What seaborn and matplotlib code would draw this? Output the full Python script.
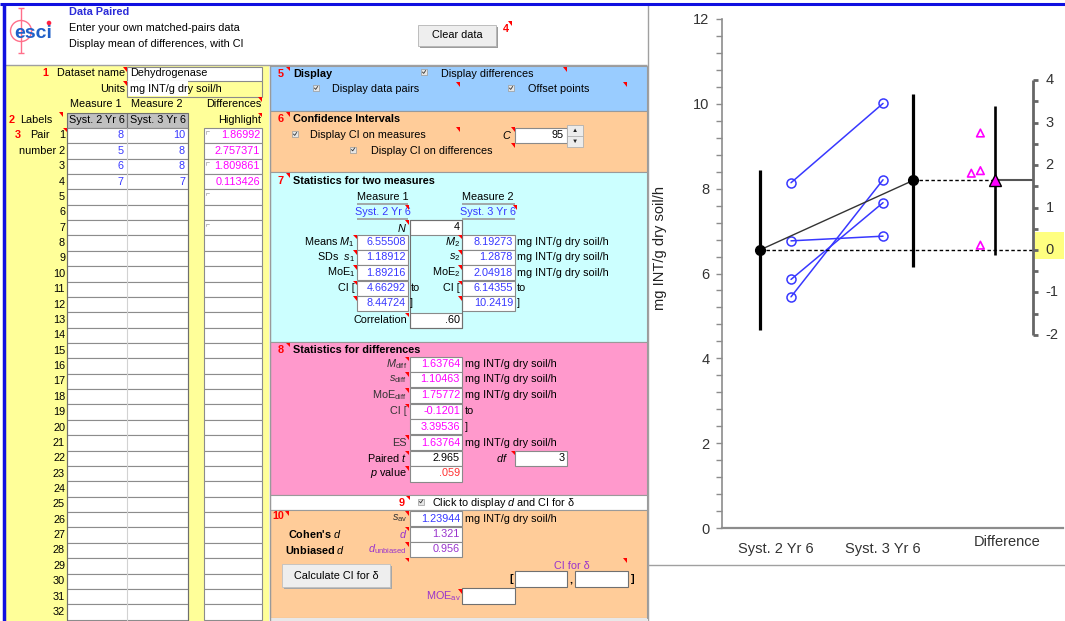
import numpy as np
import pandas as pd
import matplotlib
matplotlib.use("Agg")
import matplotlib.pyplot as plt
import seaborn as sns
from matplotlib.patches import Rectangle, Polygon, Circle

dataset_name = "Dehydrogenase"
units = "mg INT/g dry soil/h"
labels = ["Syst. 2 Yr 6", "Syst. 3 Yr 6"]
measure1 = [8.14, 5.45, 5.86, 6.77]
measure2 = [10.01, 8.21, 7.67, 6.88]
differences = [1.86992, 2.757371, 1.809861, 0.113426]
means = [6.55508, 8.19273]
sds = [1.18912, 1.2878]
moes = [1.89216, 2.04918]
ci_lower = [4.66292, 6.14355]
ci_upper = [8.44724, 10.2419]
n_pairs = 4
correlation = ".60"
m_diff = 1.63764
s_diff = 1.10463
moe_diff = 1.75772
ci_diff = [-0.1201, 3.39536]
paired_t = "2.965"
df_t = 3
p_value = ".059"
s_av = 1.23944
cohens_d = "1.321"
unbiased_d = "0.956"
conf_level = 95

sns.set_theme(style="white")
plt.rcParams["font.family"] = ["Liberation Sans", "DejaVu Sans"]
plt.rcParams["mathtext.fontset"] = "custom"
plt.rcParams["mathtext.rm"] = "Liberation Sans"
plt.rcParams["mathtext.it"] = "Liberation Sans:italic"
plt.rcParams["mathtext.bf"] = "Liberation Sans:bold"

BLUE = "#3838ff"
MAG = "#ff00ff"
PURPLE = "#9933cc"
RED = "#ff0000"
GRID = "#8a8a8a"

fig = plt.figure(figsize=(10.65, 6.21), dpi=100)
fig.patch.set_facecolor("white")

# ---- spreadsheet part, drawn in pixel coordinates ----
sheet = fig.add_axes([0, 0, 1, 1], zorder=0)
sheet.set_xlim(0, 1065)
sheet.set_ylim(621, 0)
sheet.axis("off")


def box(x0, y0, x1, y1, fc="white", ec=GRID, lw=0.8, z=1):
    sheet.add_patch(Rectangle((x0, y0), x1 - x0, y1 - y0, facecolor=fc,
                              edgecolor=ec, linewidth=lw, zorder=z))


def say(x, y, s, ha="left", color="black", size=7.8, **kw):
    sheet.text(x, y, s, ha=ha, va="center", color=color, fontsize=size, zorder=6, **kw)


def flag(x, y):
    sheet.add_patch(Polygon([(x - 4.5, y), (x, y), (x, y + 4.5)], closed=True,
                            facecolor="red", edgecolor="none", zorder=7))


def tick_box(x, y):
    box(x - 3, y - 3, x + 3, y + 3, fc="#e6e6e6", ec="#9a9a9a", lw=0.5, z=3)
    sheet.plot([x - 1.6, x - 0.3, x + 1.7], [y, y + 1.4, y - 1.6], color="#333333", lw=0.6, zorder=4)


def hline(x0, x1, y, color=GRID, lw=0.8, z=2):
    sheet.plot([x0, x1], [y, y], color=color, lw=lw, zorder=z, solid_capstyle="butt")


def vline(x, y0, y1, color=GRID, lw=0.8, z=2):
    sheet.plot([x, x], [y0, y1], color=color, lw=lw, zorder=z, solid_capstyle="butt")


# frame and header
box(0, 0, 1065, 621, fc="white", ec="none", z=0)
hline(0, 1065, 4, color="#1010e0", lw=2.2, z=3)
vline(4, 4, 621, color="#1010e0", lw=2.5, z=3)
hline(5, 647, 65, color="#a0a0a0", lw=1)
vline(647.5, 5, 621, color="#a0a0a0", lw=1)
hline(648, 1065, 565, color="#a0a0a0", lw=1)

# esci logo
sheet.add_patch(Circle((21, 31), 10.5, facecolor="none", edgecolor="#ff6f8a", lw=1, zorder=3))
vline(21, 8, 53, color="#ff6f8a", lw=1, z=3)
hline(18, 24, 8, color="#ff6f8a", lw=1, z=3)
hline(18, 24, 53, color="#ff6f8a", lw=1, z=3)
say(33, 33, "esci", ha="center", color="#2060c8", size=14, weight="bold")
sheet.add_patch(Circle((49, 23), 2.3, facecolor="#ff2040", edgecolor="none", zorder=8))

say(69, 12, "Data Paired", color="#2c2cd8", weight="bold")
say(69, 28, "Enter your own matched-pairs data")
say(69, 44, "Display mean of differences, with CI")

# clear data button
box(420, 27, 498, 48, fc="#9c9c9c", ec="none", z=2)
box(418, 25, 496, 46, fc="#eeeeee", ec="#b4b4b4", lw=0.6, z=3)
say(457, 35.5, "Clear data", ha="center")
say(503, 29, "4", color=RED, weight="bold")
flag(512, 21)

# ---- left yellow data panel ----
box(5, 65, 269, 621, fc="#ffff99", ec="none", z=1)
vline(269.5, 65, 621, color="#9a9a9a", lw=1)

say(45, 73.5, "1", ha="center", color=RED, weight="bold")
say(125, 73.5, "Dataset name", ha="right")
box(127, 67, 262, 80.5)
say(130, 73.5, dataset_name)
flag(127, 67)
say(125, 88.5, "Units", ha="right")
box(127, 81, 188, 96, ec="none")
hline(127, 262, 96.5)
vline(262, 81, 96.5)
vline(127, 81, 96.5)
say(130, 88.5, units)
flag(127, 81)

say(96, 104, "Measure 1", ha="center")
say(157, 104, "Measure 2", ha="center")
say(261, 104, "Differences", ha="right")
flag(262, 97)

say(12, 120, "2", ha="center", color=RED, weight="bold")
say(20, 120, "Labels")
flag(63, 112)
box(67, 112.5, 127, 127.5, fc="#c0c0c0", ec="#707070")
box(127, 112.5, 188, 127.5, fc="#c0c0c0", ec="#707070")
say(97, 120, labels[0], ha="center")
say(157.5, 120, labels[1], ha="center")
say(261, 120, "Highlight", ha="right")
flag(262, 112.5)

row_h = 15.37
row0 = 127.8
for k in range(32):
    top = row0 + k * row_h
    mid = top + row_h / 2
    box(67, top, 188, top + row_h, ec="#8c8c8c", lw=0.8)
    box(204, top, 262, top + row_h, ec="#8c8c8c", lw=0.8)
    if k == 0:
        say(65, mid, "1", ha="right")
        say(18, mid, "3", ha="center", color=RED, weight="bold")
        say(30, mid, "Pair")
    elif k == 1:
        say(65, mid, "number 2", ha="right")
    else:
        say(65, mid, str(k + 1), ha="right")
    if k in (0, 2, 4, 6):
        sheet.plot([206, 206, 209], [top + 6, top + 3.5, top + 3.5], color="#b0b0b0", lw=0.6, zorder=4)
vline(127, row0, 621, color="#d2d2d2", lw=0.8, z=3)
vline(67, row0, 621, color="#6e6e6e", lw=0.8, z=3)
vline(188, row0, 621, color="#6e6e6e", lw=0.8, z=3)
flag(67, row0)

for k in range(n_pairs):
    mid = row0 + k * row_h + row_h / 2
    say(124, mid, f"{measure1[k]:.0f}", ha="right", color=BLUE)
    say(185, mid, f"{measure2[k]:.0f}", ha="right", color=BLUE)
    say(260, mid, f"{differences[k]:.7g}", ha="right", color=MAG)

# ---- middle coloured panels ----
panels = [(66, 111, "#99ccff"), (111, 172, "#ffcc99"), (172, 342, "#ccffff"),
          (342, 495, "#ff99cc"), (495, 510, "white"), (510, 618, "#ffcc99")]
for y0, y1, colour in panels:
    box(270, y0, 647, y1, fc=colour, ec="#9a9a9a", lw=0.8, z=1)
box(270, 618, 647, 621, fc="#e8e8e8", ec="none", z=1)

# 5 display
say(281, 74, "5", ha="center", color=RED, weight="bold")
flag(290, 66.5)
say(293, 74, "Display", weight="bold")
tick_box(424, 72)
say(441, 74, "Display differences")
tick_box(316, 88)
say(332, 89, "Display data pairs")
tick_box(511, 88)
say(528, 89, "Offset points")
for fx, fy in [(567, 67), (460, 82), (627, 82)]:
    flag(fx, fy)

# 6 confidence intervals
say(281, 119.5, "6", ha="center", color=RED, weight="bold")
flag(290, 112)
say(293, 119.5, "Confidence Intervals", weight="bold")
tick_box(295, 134)
say(310, 135, "Display CI on measures")
flag(460, 127)
say(512, 135, "$C$", ha="right")
box(515, 128, 567, 142.5)
say(564, 135, str(conf_level), ha="right")
box(567, 124.5, 583, 146.5, fc="#ececec", ec="#b0b0b0", lw=0.6)
hline(567, 583, 135.5, color="#b0b0b0", lw=0.6)
say(575, 130, "\u25b2", ha="center", size=4.5, color="#222222")
say(575, 141, "\u25bc", ha="center", size=4.5, color="#222222")
flag(515, 127)
flag(515, 143)
tick_box(353, 149.5)
say(371, 151, "Display CI on differences")

# 7 statistics for two measures
say(281, 181, "7", ha="center", color=RED, weight="bold")
flag(290, 173)
say(293, 181, "Statistics for two measures", weight="bold")
for cx, (x0, x1) in zip([383, 488], [(357, 408), (462, 515)]):
    hline(x0, x1, 203.5, color="#9a9a9a", lw=1.2)
    hline(x0, x1, 218.5, color="#9a9a9a", lw=1.2)
say(383, 197, "Measure 1", ha="center")
say(488, 197, "Measure 2", ha="center")
say(383, 212, labels[0], ha="center", color=BLUE)
say(488, 212, labels[1], ha="center", color=BLUE)
flag(409, 205)
flag(517, 205)

rows7 = [242, 257.5, 272.5, 288, 303.5]
box(410, 220, 462, 328, fc="none", ec="#707070", lw=0.8, z=3)
box(410, 220, 462, 235)
say(407, 227.5, "$N$", ha="right")
say(460, 227.5, str(n_pairs), ha="right")
flag(409, 220)
left_lab = ["Means $M_1$", "SDs  $s_1$", "MoE$_1$", "CI [", ""]
right_lab = ["$M_2$", "$s_2$", "MoE$_2$", "CI [", ""]
col_vals = [[means[j], sds[j], moes[j], ci_lower[j], ci_upper[j]] for j in range(2)]
for i, y in enumerate(rows7):
    box(357, y - 7.5, 408, y + 7.5)
    box(462, y - 7.5, 515, y + 7.5)
    say(355, y, left_lab[i], ha="right")
    say(460, y, right_lab[i], ha="right")
    say(406, y, f"{col_vals[0][i]:.6g}", ha="right", color=BLUE)
    say(513, y, f"{col_vals[1][i]:.6g}", ha="right", color=BLUE)
    flag(357, y - 7.5)
    flag(462, y - 7.5)
    if i < 3:
        say(517, y, units)
say(411, rows7[3], "to")
say(517, rows7[3], "to")
say(410, rows7[4], "]")
say(517, rows7[4], "]")
box(410, 312.5, 462, 328)
say(407, 320, "Correlation", ha="right")
say(460, 320, correlation, ha="right")
flag(409, 312.5)

# 8 statistics for differences
say(281, 350, "8", ha="center", color=RED, weight="bold")
flag(290, 342.5)
say(293, 350, "Statistics for differences", weight="bold")
rows8 = [364, 379.5, 395.5, 411, 426.5, 442.5]
lab8 = [r"$M_{\rm diff}$", r"$s_{\rm diff}$", r"MoE$_{\rm diff}$", "CI [", "", "ES"]
val8 = [m_diff, s_diff, moe_diff, ci_diff[0], ci_diff[1], m_diff]
for i, y in enumerate(rows8):
    box(410, y - 7.5, 462, y + 7.5)
    say(407, y, lab8[i], ha="right", color="#333333")
    say(460, y, f"{val8[i]:.6g}", ha="right", color=MAG)
    if i != 4:
        flag(409, y - 7.5)
    if i in (0, 1, 2, 5):
        say(465, y, units)
say(465, rows8[3], "to")
say(465, rows8[4], "]")
box(410, 450.5, 462, 466)
say(407, 458, "Paired $t$", ha="right")
say(460, 458, paired_t, ha="right")
flag(409, 450.5)
say(508, 458, "$df$", ha="right")
box(515, 450.5, 567, 466)
say(565, 458, str(df_t), ha="right")
flag(515, 450.5)
box(410, 466, 462, 481.5)
say(407, 473.5, "$p$ value", ha="right")
say(460, 473.5, p_value, ha="right", color="#ff3030")
flag(409, 466)

# 9 toggle row
say(402, 502.5, "9", ha="center", color=RED, weight="bold")
flag(410, 495.5)
tick_box(421, 501.5)
say(432, 503, "Click to display $d$ and CI for \u03b4")

# 10 effect size
say(278, 516, "10", ha="center", color=RED, weight="bold")
flag(289, 511)
rows10 = [518.5, 534, 549.5]
lab10 = [r"$s_{\rm av}$", "$d$", r"$d_{\rm unbiased}$"]
val10 = [f"{s_av:.6g}", cohens_d, unbiased_d]
col10 = [BLUE, PURPLE, PURPLE]
for i, y in enumerate(rows10):
    box(410, y - 7.5, 462, y + 7.5)
    say(407, y, lab10[i], ha="right", color="#333333" if i == 0 else PURPLE)
    say(460, y, val10[i], ha="right", color=col10[i])
    flag(409, y - 7.5)
flag(409, 557.5)
say(465, rows10[0], units)
say(315, 534, "Cohen's $d$", ha="center", weight="bold")
say(315, 549.5, "Unbiased $d$", ha="center", weight="bold")

box(284, 566, 392, 589, fc="#a6a6a6", ec="none", z=2)
box(282, 564, 390, 587, fc="#eeeeee", ec="#c0c0c0", lw=0.6, z=3)
say(336, 576, "Calculate CI for \u03b4", ha="center")

say(572, 566, "CI for \u03b4", ha="center", color=PURPLE)
flag(627, 558)
say(513, 578.5, "[", ha="right", weight="bold")
box(515, 571, 567, 586.5, ec="#707070")
say(571, 579, ",", ha="center", weight="bold")
box(575, 571, 628, 586.5, ec="#707070")
say(631, 578.5, "]", weight="bold")
say(461, 596, r"MOE$_{\rm av}$", ha="right", color=PURPLE)
box(462, 588, 515, 604, ec="#707070")
flag(462, 589)

# ---- the chart ----
ax = fig.add_axes([722 / 1065, (621 - 528) / 621, (1063 - 722) / 1065, (528 - 19) / 621], zorder=2)
ax.patch.set_alpha(0)

pos_mean1, pos_pts1, pos_pts2, pos_mean2 = -0.15, 0.14, 1.0, 1.28
pos_diff_pts, pos_diff_mean, pos_axis2 = 1.91, 2.05, 2.40

pairs = pd.DataFrame({
    "pair": np.repeat(np.arange(n_pairs), 2),
    "xpos": [pos_pts1, pos_pts2] * n_pairs,
    "value": np.ravel(np.column_stack([measure1, measure2])),
})
sns.lineplot(data=pairs, x="xpos", y="value", units="pair", estimator=None, sort=False,
             color=BLUE, lw=1.1, marker="o", markersize=6.5, markerfacecolor="none",
             markeredgecolor=BLUE, markeredgewidth=1.1, ax=ax, legend=False)

# differences, nudged sideways where they would overlap
diff_x = []
for i, d in enumerate(differences):
    close = [j for j in range(i) if abs(differences[j] - d) < 0.15]
    diff_x.append(pos_diff_pts - 0.085 * len(close))
sns.scatterplot(x=diff_x, y=[means[0] + d for d in differences], marker="^", s=30,
                color=MAG, ax=ax, legend=False, zorder=4)
ax.collections[-1].set_facecolor("none")
ax.collections[-1].set_edgecolor(MAG)
ax.collections[-1].set_linewidth(1.2)

# means with CIs
ax.plot([pos_mean1, pos_mean2], means, color="#333333", lw=1, zorder=3)
ax.vlines([pos_mean1, pos_mean2], ci_lower, ci_upper, color="black", lw=2.3, zorder=3)
ax.plot([pos_mean1, pos_mean2], means, "o", color="black", ms=7, zorder=5)

# dashed reference lines and the difference axis
ax.plot([pos_mean1, pos_axis2], [means[0]] * 2, color="black", lw=1, ls=(0, (2.5, 1.8)), zorder=2)
ax.plot([pos_mean2, pos_diff_mean], [means[1]] * 2, color="black", lw=1, ls=(0, (2.5, 1.8)), zorder=2)
ax.plot([pos_diff_mean, pos_axis2], [means[0] + m_diff] * 2, color="#555555", lw=1.5, zorder=2)
ax.vlines(pos_diff_mean, means[0] + ci_diff[0], means[0] + ci_diff[1], color="black", lw=1.9, zorder=3)
ax.plot([pos_diff_mean], [means[0] + m_diff], "^", color=MAG, mec="black", mew=1, ms=9, zorder=6)

diff_ticks = np.arange(-2, 4.01, 0.5)
ax.plot([pos_axis2, pos_axis2], [means[0] - 2, means[0] + 4], color="#666666", lw=2,
        clip_on=False, zorder=3, solid_capstyle="butt")
for t in diff_ticks:
    ax.plot([pos_axis2, pos_axis2 + 0.05], [means[0] + t] * 2, color="#666666", lw=2,
            clip_on=False, zorder=3, solid_capstyle="butt")
    if t == int(t):
        ax.text(pos_axis2 + 0.12, means[0] + t, f"{int(t)}", ha="left", va="center",
                fontsize=10.5, color="#333333", clip_on=False)
ax.add_patch(Rectangle((pos_axis2 + 0.02, means[0] - 0.22), 0.27, 0.64, facecolor="#ffff80",
                       edgecolor="none", clip_on=False, zorder=0))

ax.set_xlim(-0.505, 2.682)
ax.set_ylim(0, 12)
ax.set_yticks(np.arange(0, 12.1, 2))
ax.set_yticks(np.arange(0, 12.01, 0.4), minor=True)
ax.tick_params(axis="y", which="both", left=True, direction="out", color="#8c8c8c",
               length=4, width=1, labelsize=10.5, labelcolor="#333333", pad=5)
ax.set_xticks([0, 1])
ax.set_xticklabels(labels)
ax.tick_params(axis="x", length=0, labelsize=10.5, labelcolor="#333333", pad=10)
ax.text(2.16, -0.32, "Difference", ha="center", va="center", fontsize=10.5,
        color="#333333", clip_on=False)
ax.set_xlabel("")
ax.set_ylabel(units, fontsize=10.5, color="#222222")
ax.yaxis.set_label_coords(-0.16, 0.55)
for side in ("top", "right"):
    ax.spines[side].set_visible(False)
ax.spines["left"].set_color("#8c8c8c")
ax.spines["left"].set_linewidth(1.2)
ax.spines["bottom"].set_color("#8c8c8c")
ax.spines["bottom"].set_linewidth(1.6)

fig.savefig("out.png", dpi=100)
